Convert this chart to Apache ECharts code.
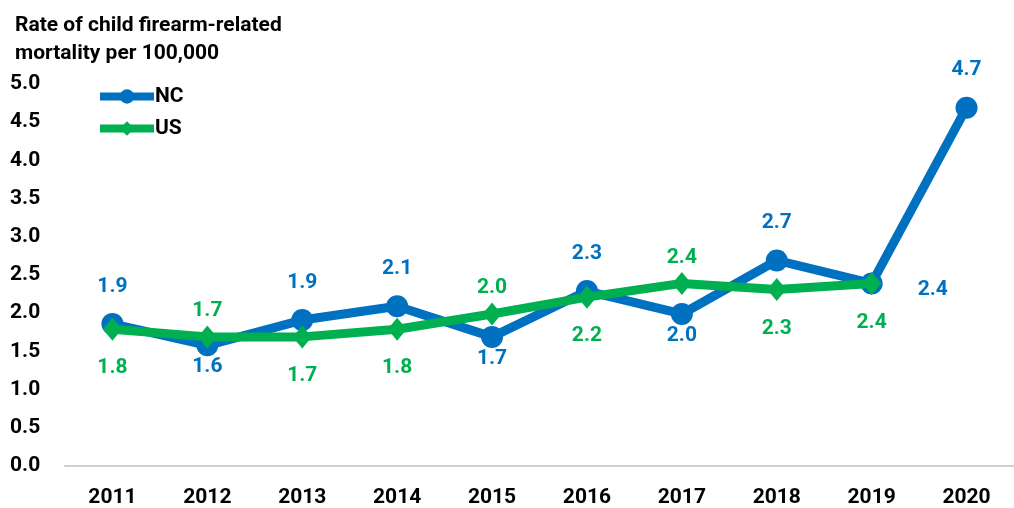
<!DOCTYPE html>
<html>
<head>
<meta charset="utf-8">
<script src="https://cdn.jsdelivr.net/npm/echarts@6/dist/echarts.min.js"></script>
<style>
  html, body { margin: 0; padding: 0; background: #fff; }
  #chart { width: 1014px; height: 508px; }
</style>
</head>
<body>
<div id="chart"></div>
<script>
// 年份
const years = ['2011', '2012', '2013', '2014', '2015', '2016', '2017', '2018', '2019', '2020']
// 北卡和全国的数值
const ncValues = [1.86, 1.58, 1.91, 2.09, 1.69, 2.29, 1.99, 2.69, 2.39, 4.69]
const usValues = [1.79, 1.69, 1.69, 1.79, 1.99, 2.21, 2.39, 2.31, 2.39]
// 标签位置
const ncLabelPos = ['top', 'bottom', 'top', 'top', 'bottom', 'top', 'bottom', 'top', 'right', 'top']
const usLabelPos = ['bottom', 'top', 'bottom', 'bottom', 'top', 'bottom', 'top', 'bottom', 'bottom']

const font = 'Roboto, sans-serif'
const blue = '#0070c0'
const green = '#00b050'

const chart = echarts.init(document.getElementById('chart'))

// 每个点的标签距离
const ncDistance = { top: 16, bottom: 0, right: 35 }
const usDistance = { top: 4, bottom: 17 }

const toData = (values, positions, distances) =>
  values.map((v, i) => ({
    value: v,
    label: {
      position: positions[i],
      distance: distances[positions[i]],
      offset: positions[i] === 'right' ? [0, 6] : [0, 0],
    },
  }))

const boldText = (color, size) => ({
  fontFamily: font,
  fontSize: size,
  fontWeight: 'bold',
  color: color,
})

chart.setOption({
  animation: false,
  textStyle: { fontFamily: font },
  title: {
    text: 'Rate of child firearm-related\nmortality per 100,000',
    left: 10,
    top: 7,
    textStyle: { ...boldText('#000', 21), lineHeight: 28 },
  },
  legend: {
    orient: 'vertical',
    left: 96,
    top: 86,
    padding: 0,
    itemWidth: 54,
    itemHeight: 18,
    itemGap: 11,
    lineStyle: { width: 8 },
    textStyle: { ...boldText('#000', 21), padding: [0, 0, 0, -4] },
    data: ['NC', 'US'],
  },
  grid: {
    left: 65,
    right: -17,
    top: 84,
    bottom: 39,
  },
  xAxis: {
    type: 'category',
    data: years,
    axisLine: { lineStyle: { color: '#d0d0d0', width: 2 } },
    axisTick: { show: false },
    axisLabel: { margin: 21, ...boldText('#000', 21) },
  },
  yAxis: {
    type: 'value',
    min: 0,
    max: 5,
    interval: 0.5,
    splitLine: { show: false },
    axisLine: { show: false },
    axisTick: { show: false },
    axisLabel: {
      formatter: (v) => v.toFixed(1),
      align: 'left',
      margin: 55,
      ...boldText('#000', 21),
    },
  },
  series: [
    {
      name: 'NC',
      type: 'line',
      data: toData(ncValues, ncLabelPos, ncDistance),
      symbol: 'circle',
      symbolSize: 22,
      lineStyle: { width: 9, color: blue },
      itemStyle: { color: blue },
      label: {
        show: true,
        formatter: (p) => p.value.toFixed(1),
        ...boldText(blue, 21),
      },
      z: 2,
    },
    {
      name: 'US',
      type: 'line',
      data: toData(usValues, usLabelPos, usDistance),
      symbol: 'diamond',
      symbolSize: [19, 23],
      lineStyle: { width: 9, color: green },
      itemStyle: { color: green },
      label: {
        show: true,
        formatter: (p) => p.value.toFixed(1),
        ...boldText(green, 21),
      },
      z: 3,
    },
  ],
})
</script>
</body>
</html>
